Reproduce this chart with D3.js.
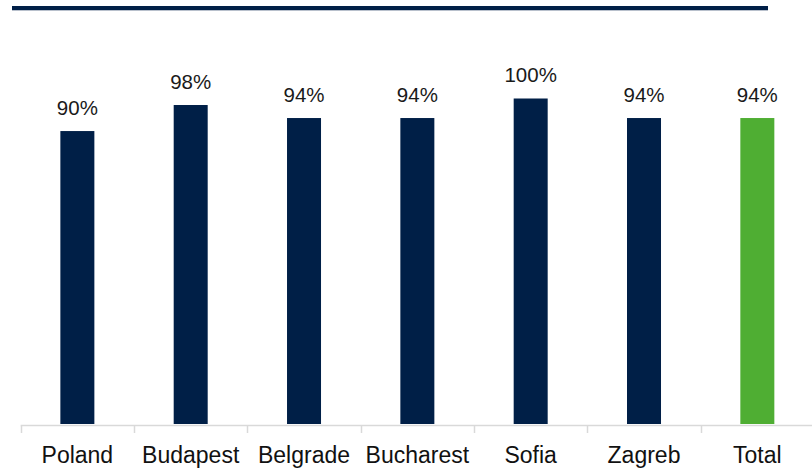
<!DOCTYPE html>
<html>
<head>
<meta charset="utf-8">
<script src="https://cdn.jsdelivr.net/npm/d3@7/dist/d3.min.js"></script>
<style>
  html, body { margin: 0; padding: 0; background: #ffffff; }
  svg { display: block; }
  text { font-family: "Liberation Sans", Arial, sans-serif; }
</style>
</head>
<body>
<svg id="chart" width="812" height="468"></svg>
<script>
// Occupancy by city
const categories = ["Poland", "Budapest", "Belgrade", "Bucharest", "Sofia", "Zagreb", "Total"];
const values = [90, 98, 94, 94, 100, 94, 94];
const valueLabels = ["90%", "98%", "94%", "94%", "100%", "94%", "94%"];
const highlight = ["Total"];

const W = 812, H = 468;
const svg = d3.select("#chart");

const navy = "#001f47";
const green = "#4fae33";

// Header rule
svg.append("rect").attr("x", 12).attr("y", 6).attr("width", 756).attr("height", 4).attr("fill", navy);
svg.append("rect").attr("x", 12).attr("y", 10).attr("width", 756).attr("height", 1).attr("fill", "#b8c0cc");

const baseY = 424;
const x = d3.scaleBand()
  .domain(categories)
  .range([20.7, 814])
  .paddingInner(0.7)
  .paddingOuter(0.35);

const y = d3.scaleLinear().domain([0, 100]).range([baseY, 98.5]);

// Bars
svg.append("g").selectAll("rect")
  .data(categories)
  .join("rect")
  .attr("x", d => x(d))
  .attr("width", x.bandwidth())
  .attr("y", (d, i) => y(values[i]))
  .attr("height", (d, i) => baseY - y(values[i]))
  .attr("fill", d => highlight.includes(d) ? green : navy);

// Value labels
svg.append("g").selectAll("text")
  .data(categories)
  .join("text")
  .attr("x", d => x(d) + x.bandwidth() / 2)
  .attr("y", (d, i) => y(values[i]) - 16.5)
  .attr("text-anchor", "middle")
  .attr("font-size", "20.5px")
  .attr("fill", "#1a1a1a")
  .text((d, i) => valueLabels[i]);

// Category axis
const axisY = 425.5;
const step = x.step();
const x0 = 20.7;
const axis = svg.append("g");
axis.append("line")
  .attr("x1", x0).attr("x2", W)
  .attr("y1", axisY).attr("y2", axisY)
  .attr("stroke", "#d9d9d9").attr("stroke-width", 1.5);
axis.selectAll("line.tick")
  .data(d3.range(categories.length + 1))
  .join("line")
  .attr("class", "tick")
  .attr("x1", k => Math.round(x0 + k * step) + 0.5)
  .attr("x2", k => Math.round(x0 + k * step) + 0.5)
  .attr("y1", axisY).attr("y2", axisY + 7.5)
  .attr("stroke", "#d9d9d9").attr("stroke-width", 1.5);

axis.selectAll("text")
  .data(categories)
  .join("text")
  .attr("x", d => x(d) + x.bandwidth() / 2)
  .attr("y", 462.5)
  .attr("text-anchor", "middle")
  .attr("font-size", "23px")
  .attr("fill", "#111111")
  .text(d => d);
</script>
</body>
</html>
